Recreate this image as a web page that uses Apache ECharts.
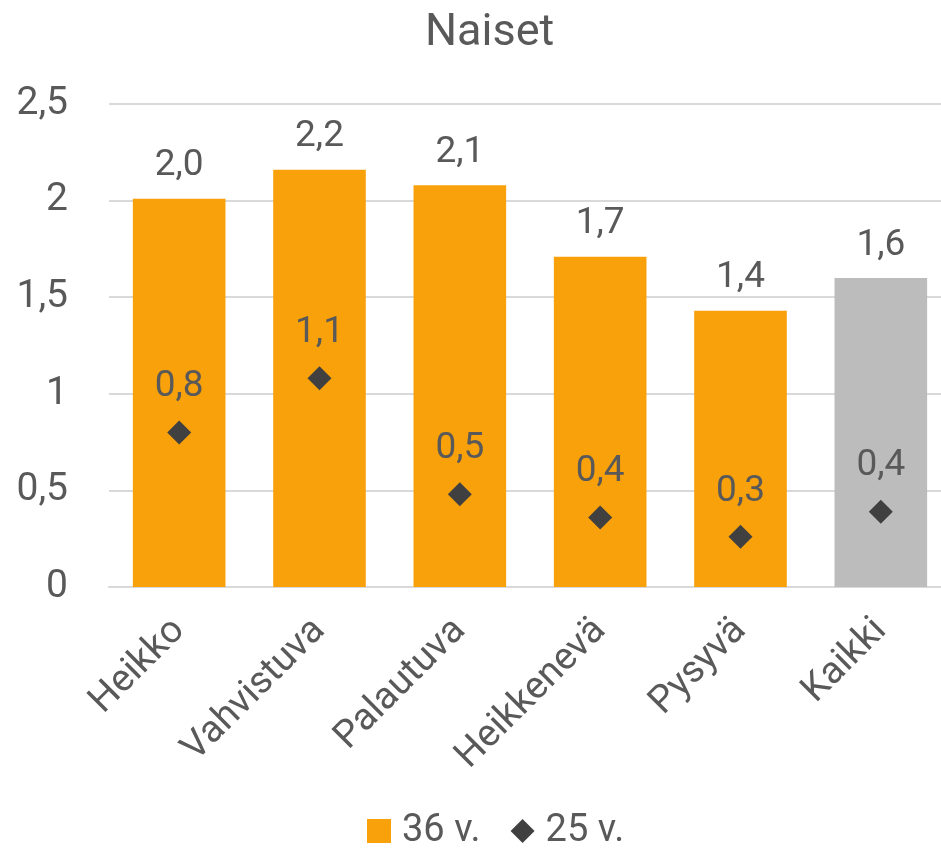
<!DOCTYPE html>
<html>
<head>
<meta charset="utf-8">
<script src="https://cdn.jsdelivr.net/npm/echarts@6/dist/echarts.min.js"></script>
<style>html,body{margin:0;padding:0;background:#fff}#c{width:941px;height:861px}</style>
</head>
<body>
<div id="c"></div>
<script>
const categories = ['Heikko', 'Vahvistuva', 'Palautuva', 'Heikkenevä', 'Pysyvä', 'Kaikki'];
const values36 = [2.01, 2.16, 2.08, 1.71, 1.43, 1.60];
const values25 = [0.80, 1.08, 0.48, 0.36, 0.26, 0.39];
const yTicks = [0, 0.5, 1, 1.5, 2, 2.5];

const FONT = 'Roboto';
const FW = 'normal';
const TXT = '#595959';
const ORANGE = '#F9A10B';
const GRAY = '#BCBCBC';
const DARK = '#404040';
const fmt = v => v.toFixed(1).replace('.', ',');

const chart = echarts.init(document.getElementById('c'));
chart.setOption({
  animation: false,
  textStyle: { fontFamily: FONT, fontWeight: FW, color: TXT },
  title: {
    text: 'Naiset', left: 420, top: 6,
    textStyle: { fontFamily: FONT, fontWeight: FW, fontSize: 45, color: TXT }
  },
  grid: { left: 109, width: 842, top: 104, bottom: 274, containLabel: false, outerBoundsMode: 'none' },
  legend: {
    bottom: 6, left: 362, itemWidth: 24, itemHeight: 24, itemGap: 30,
    textStyle: { fontFamily: FONT, fontWeight: FW, fontSize: 38, color: TXT, padding: [0, 0, 0, 6] },
    data: [{ name: '36 v.', icon: 'rect' }, { name: '25 v.', icon: 'diamond' }]
  },
  xAxis: {
    type: 'category', data: categories,
    axisLine: { lineStyle: { color: '#D9D9D9', width: 2 } },
    axisTick: { show: false },
    axisLabel: { rotate: 45, margin: 38, fontSize: 38, color: TXT, fontFamily: FONT, fontWeight: FW, interval: 0 }
  },
  yAxis: {
    type: 'value', min: 0, max: 2.5, interval: 0.5,
    axisLine: { show: false }, axisTick: { show: false },
    splitLine: { lineStyle: { color: '#D9D9D9', width: 2 } },
    axisLabel: {
      margin: 41, fontSize: 39, color: TXT, fontFamily: FONT, fontWeight: FW,
      formatter: v => String(yTicks.find(t => Math.abs(t - v) < 1e-9) ?? v).replace('.', ',')
    }
  },
  series: [
    {
      name: '36 v.', type: 'bar', barWidth: '66%',
      itemStyle: { color: ORANGE },
      data: values36.map((v, i) => i === categories.length - 1 ? { value: v, itemStyle: { color: GRAY } } : v),
      label: {
        show: true, position: 'top', distance: 14, fontSize: 37, color: TXT,
        fontFamily: FONT, fontWeight: FW, formatter: p => fmt(p.value)
      }
    },
    {
      name: '25 v.', type: 'scatter', symbol: 'diamond', symbolSize: 24,
      itemStyle: { color: DARK, opacity: 1 }, z: 5,
      data: values25,
      label: {
        show: true, position: 'top', distance: 15, fontSize: 37, color: TXT,
        fontFamily: FONT, fontWeight: FW, formatter: p => fmt(p.value)
      }
    }
  ]
});
</script>
</body>
</html>
